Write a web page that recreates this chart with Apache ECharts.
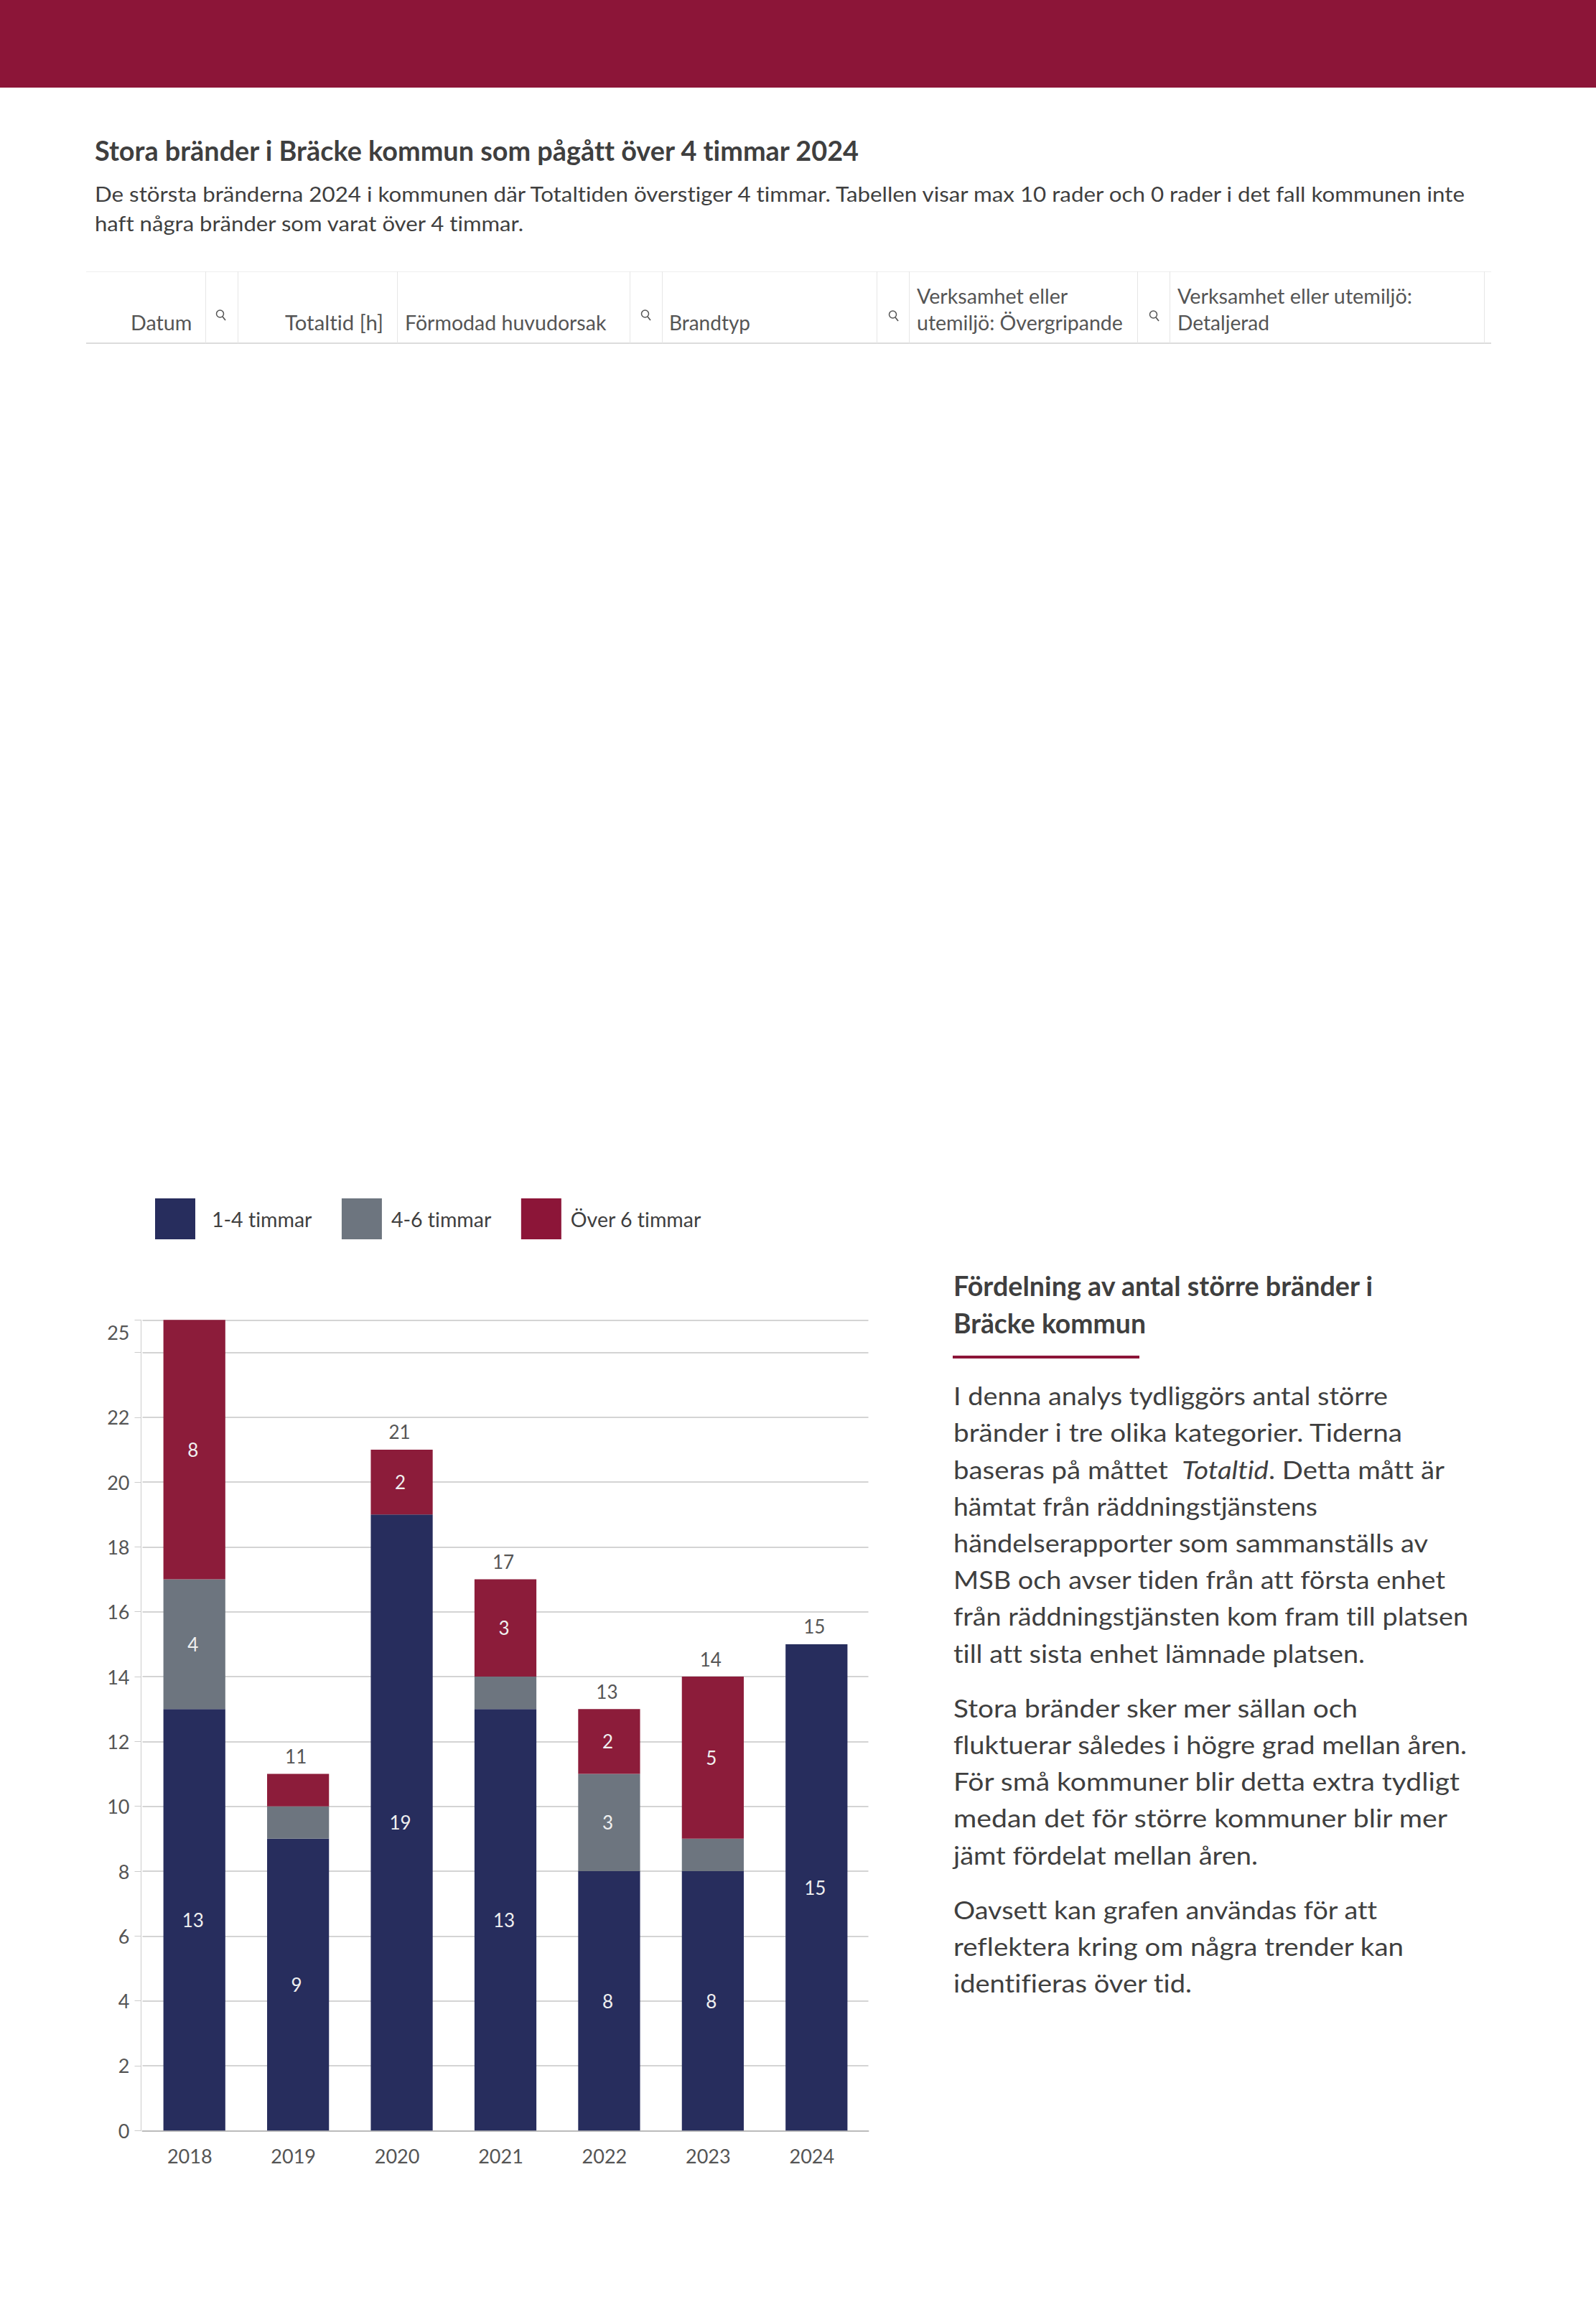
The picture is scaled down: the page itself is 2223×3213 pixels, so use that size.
<!DOCTYPE html>
<html lang="sv">
<head>
<meta charset="utf-8">
<title>Stora bränder i Bräcke kommun</title>
<script src="https://cdn.jsdelivr.net/npm/echarts@6/dist/echarts.min.js"></script>
<style>
html,body{margin:0;padding:0;background:#fff;width:2223px;height:3213px;overflow:hidden;font-family:Lato,sans-serif;color:#3f3f3f;font-variant-ligatures:none}
#chart{position:absolute;left:0;top:0;width:2223px;height:3213px}
#chart text{font-variant-ligatures:none}
.t{position:absolute;line-height:0;white-space:nowrap;transform-origin:0 50%;z-index:2}
.b{position:absolute;z-index:1}
.ic{position:absolute;z-index:2}
</style>
</head>
<body>
<div id="chart"></div>
<script>
// ---- chart data ----
const years = ['2018','2019','2020','2021','2022','2023','2024'];
const seriesNames = ['1-4 timmar','4-6 timmar','Över 6 timmar'];
const hours1to4 = [13,9,19,13,8,8,15];
const hours4to6 = [4,1,0,1,3,1,0];
const hoursOver6 = [8,1,2,3,2,5,0];
const totals = [25,11,21,17,13,14,15];
const yTickLabels = [0,2,4,6,8,10,12,14,16,18,20,22,25];
// ---- page text ----
const titleText = 'Stora bränder i Bräcke kommun som pågått över 4 timmar 2024';
const subtitleLines = ['De största bränderna 2024 i kommunen där Totaltiden överstiger 4 timmar. Tabellen visar max 10 rader och 0 rader i det fall kommunen inte','haft några bränder som varat över 4 timmar.'];
const tableHeaders = ['Datum','Totaltid [h]','Förmodad huvudorsak','Brandtyp','Verksamhet eller','utemiljö: Övergripande','Verksamhet eller utemiljö:','Detaljerad'];
const headingLines = ['Fördelning av antal större bränder i','Bräcke kommun'];
const bodyLines = ['I denna analys tydliggörs antal större','bränder i tre olika kategorier. Tiderna','baseras på måttet&nbsp; <i>Totaltid</i>. Detta mått är','hämtat från räddningstjänstens','händelserapporter som sammanställs av','MSB och avser tiden från att första enhet','från räddningstjänsten kom fram till platsen','till att sista enhet lämnade platsen.','Stora bränder sker mer sällan och','fluktuerar således i högre grad mellan åren.','För små kommuner blir detta extra tydligt','medan det för större kommuner blir mer','jämt fördelat mellan åren.','Oavsett kan grafen användas för att','reflektera kring om några trender kan','identifieras över tid.'];

// ---- page layout ----
function text(html,x,base,size,right,opts){
  opts=opts||{};
  const e=document.createElement('div');e.className='t';e.innerHTML=html;
  e.style.left=x+'px';e.style.top=(base-0.387*size+1.5)+'px';e.style.fontSize=size+'px';
  e.style.color=opts.color||'#3f3f3f';if(opts.weight)e.style.fontWeight=opts.weight;
  document.body.appendChild(e);
  const w=e.getBoundingClientRect().width;
  e.style.transform='scaleX('+((right-x)/w)+')';
}
function box(x,y,w,h,c){const e=document.createElement('div');e.className='b';e.style.cssText+='left:'+x+'px;top:'+y+'px;width:'+w+'px;height:'+h+'px;background:'+c;document.body.appendChild(e);}
function searchIcon(cx,cy){
  const s=document.createElementNS('http://www.w3.org/2000/svg','svg');
  s.setAttribute('class','ic');s.setAttribute('width',18);s.setAttribute('height',18);s.setAttribute('viewBox','0 0 18 18');
  s.style.left=(cx-9)+'px';s.style.top=(cy-9)+'px';
  s.innerHTML='<circle cx="7.5" cy="7" r="5" fill="none" stroke="#555" stroke-width="1.5"/><line x1="11" y1="11" x2="15" y2="16" stroke="#555" stroke-width="1.7"/>';
  document.body.appendChild(s);
}
box(0,0,2223,122,'#8C1538');
text(titleText,132,222.5,39,1196,{weight:700});
text(subtitleLines[0],132,279.5,29,2040);
text(subtitleLines[1],132,320.5,29,729);
box(120,378,1957,1,'#eeeeee');
box(120,477,1957,1.5,'#dcdcdc');
[286,331,553,877,922,1221,1266,1584,1629,2067].forEach(x=>box(x,378,1,100,'#e6e6e6'));
[[308,439],[900,439],[1245,440],[1608,440]].forEach(p=>searchIcon(p[0],p[1]));
const headerPos=[[181.6,458,267],[396.6,458,533.7],[563.6,458,844],[932,458,1045],[1276.7,421.7,1487],[1276.7,458,1563.6],[1640,421.7,1967],[1640,458,1768]];
tableHeaders.forEach((h,i)=>text(h,headerPos[i][0],headerPos[i][1],28,headerPos[i][2],{color:'#555'}));
text(headingLines[0],1328,1803,38,1912,{weight:700});
text(headingLines[1],1328,1855,38,1596,{weight:700});
box(1327,1888,260,4,'#8C1538');
const bodyPos=[[1956,1933],[2007,1953],[2059,2012],[2110,1835],[2161,1989],[2212,2013],[2263.5,2045],[2315,1901],[2391,1891],[2442,2043],[2493,2033],[2544.5,2016],[2596,1752],[2672,1918],[2723,1955],[2774,1660]];
bodyLines.forEach((l,i)=>text(l,1328,bodyPos[i][0],35.5,bodyPos[i][1]));

// ---- chart ----
const navy='#272D5D',gray='#6D757F',red='#8C1C3A';
const font='Lato';
function barSeries(name,values,color,minShown){
  return {name,type:'bar',stack:'t',barCategoryGap:'40.3%',itemStyle:{color},
    data:values.map(v=>({value:v,label:{show:v>minShown}})),
    label:{position:'inside',color:'#f0f0f0',fontFamily:font,fontSize:26,offset:[-2,0]}};
}
const chart=echarts.init(document.getElementById('chart'),null,{width:2223,height:3213,renderer:'svg'});
chart.setOption({
  animation:false,
  legend:{left:216,top:1669,padding:0,itemWidth:56,itemHeight:57,itemGap:41,icon:'rect',
    textStyle:{fontFamily:font,fontSize:28.5,color:'#3f3f3f'},
    data:[
      {name:seriesNames[0],itemStyle:{color:navy},textStyle:{padding:[0,0,0,18]}},
      {name:seriesNames[1],itemStyle:{color:gray},textStyle:{padding:[0,0,0,8]}},
      {name:seriesNames[2],itemStyle:{color:'#8C1538'},textStyle:{padding:[0,0,0,8]}}
    ]},
  grid:{left:198.5,top:1838.3,width:1011,height:1129,containLabel:false},
  xAxis:{type:'category',data:years,
    axisLine:{lineStyle:{color:'#bbbbbb',width:2}},axisTick:{show:false},
    axisLabel:{fontFamily:font,fontSize:27,color:'#555',margin:21.5,padding:[0,13,0,0]}},
  yAxis:{type:'value',min:0,max:25,interval:2,offset:2,
    axisLine:{show:true,lineStyle:{color:'#cccccc',width:1}},
    axisTick:{show:true,length:9,lineStyle:{color:'#cccccc'}},
    splitLine:{show:true,lineStyle:{color:'#d4d4d4',width:2}},
    axisLabel:{fontFamily:font,fontSize:27,color:'#555',margin:16,verticalAlignMaxLabel:'top',padding:[4,0,0,0],
      formatter:v=>yTickLabels.includes(v)?String(v):''}},
  series:[
    barSeries(seriesNames[0],hours1to4,navy,1),
    barSeries(seriesNames[1],hours4to6,gray,1),
    barSeries(seriesNames[2],hoursOver6,red,1),
    {name:'Totalt',type:'line',symbol:'circle',symbolSize:1,showSymbol:true,itemStyle:{color:'rgba(0,0,0,0)'},lineStyle:{opacity:0},silent:true,z:5,
     data:totals.map(v=>({value:v,label:{show:v<25}})),
     label:{position:'top',distance:11,color:'#555',fontFamily:font,fontSize:26,offset:[-3,0]}}
  ]
});
</script>
</body>
</html>
